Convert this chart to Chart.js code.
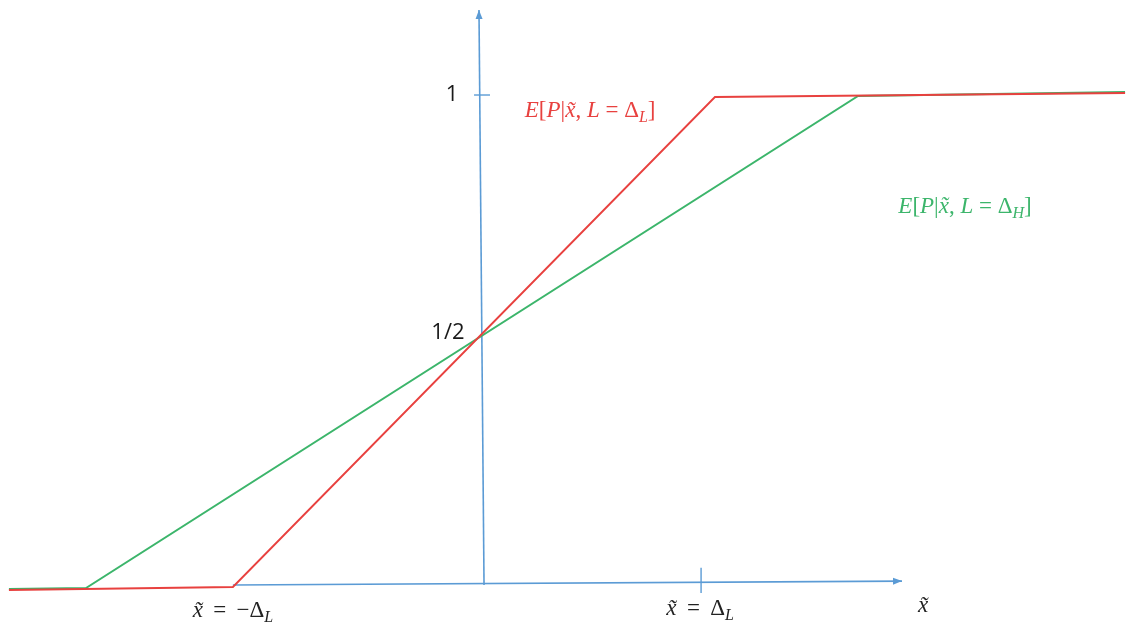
<!DOCTYPE html>
<html>
<head>
<meta charset="utf-8">
<script src="https://cdn.jsdelivr.net/npm/chart.js@4/dist/chart.umd.min.js"></script>
<style>
html,body{margin:0;padding:0;background:#fff;}
#wrap{width:1130px;height:630px;position:relative;}
</style>
</head>
<body>
<div id="wrap"><canvas id="c"></canvas></div>
<script>
// ---- data (x in units of roughly Delta_L, y in probability units) ----
const redX = [-2.013, -1.06, 0.991, 2.736];
const redY = [-0.006, 0.0, 0.998, 1.006];
const greenX = [-2.013, -1.685, 1.60, 2.736];
const greenY = [-0.004, -0.002, 1.000, 1.008];
// axes
const hAxisX = [-1.06, 1.787];
const hAxisY = [0.004, 0.012];
const vAxisX = [0.0085, -0.013];
const vAxisY = [0.004, 1.175];
// tick marks
const xTickX = [0.932, 0.932];
const xTickY = [0.039, -0.012];
const yTickX = [-0.034, 0.034];
const yTickY = [1.002, 1.002];
// scale ranges
const xRange = [-2.051, 2.757];
const yRange = [-0.0876, 1.1955];
// text labels
const labels = [
  {x: 0.46, y: 0.972, color: '#e8413f', segs: [['E','i'],['[','n'],['P','i'],['|','n'],['x\u0303','i'],[', ','n'],['L','i'],[' = Δ','n'],['L','s'],[']','n']]},
  {x: 2.055, y: 0.778, color: '#3cb56b', segs: [['E','i'],['[','n'],['P','i'],['|','n'],['x\u0303','i'],[', ','n'],['L','i'],[' = Δ','n'],['H','s'],[']','n']]},
  {x: -1.06, y: -0.0456, color: '#222', segs: [['x\u0303','i'],['\u2009 = \u2009−Δ','n'],['L','s']]},
  {x: 0.928, y: -0.0415, color: '#222', segs: [['x\u0303','i'],['\u2009 = \u2009Δ','n'],['L','s']]},
  {x: 1.877, y: -0.0354, color: '#222', segs: [['x\u0303','i']]}
];
const plainLabels = [
  {x: -0.128, y: 1.002, text: '1'},
  {x: -0.145, y: 0.517, text: '1/2'}
];

function pts(xs, ys){ return xs.map((x,i)=>({x:x, y:ys[i]})); }

const blue = '#5b9bd5';
const ds = (xs, ys, color, w, order) => ({data: pts(xs, ys), borderColor: color, borderWidth: w, showLine: true, pointRadius: 0, tension: 0, fill: false, order: order});

const arrowPlugin = {
  id: 'arrows',
  afterDatasetsDraw(chart){
    const ctx = chart.ctx, xs = chart.scales.x, ys = chart.scales.y;
    const arrow = (x0,y0,x1,y1) => {
      const px0 = xs.getPixelForValue(x0), py0 = ys.getPixelForValue(y0);
      const px1 = xs.getPixelForValue(x1), py1 = ys.getPixelForValue(y1);
      const a = Math.atan2(py1-py0, px1-px0);
      const L = 9, W = 3.5;
      ctx.save();
      ctx.fillStyle = blue;
      ctx.translate(px1, py1); ctx.rotate(a);
      ctx.beginPath(); ctx.moveTo(0,0); ctx.lineTo(-L, -W); ctx.lineTo(-L, W); ctx.closePath(); ctx.fill();
      ctx.restore();
    };
    arrow(hAxisX[0], hAxisY[0], hAxisX[1], hAxisY[1]);
    arrow(vAxisX[0], vAxisY[0], vAxisX[1], vAxisY[1]);

    // rich text labels
    const size = 23;
    const fontFor = s => s === 'i' ? `italic ${size}px "Liberation Serif"` : s === 's' ? `italic ${Math.round(size*0.7)}px "Liberation Serif"` : `${size}px "Liberation Serif"`;
    labels.forEach(l => {
      let w = 0;
      l.segs.forEach(([t,s]) => { ctx.font = fontFor(s); w += ctx.measureText(t).width; });
      let cx = xs.getPixelForValue(l.x) - w/2;
      const base = ys.getPixelForValue(l.y) + size*0.33;
      ctx.save(); ctx.fillStyle = l.color; ctx.textBaseline = 'alphabetic';
      l.segs.forEach(([t,s]) => {
        ctx.font = fontFor(s);
        ctx.fillText(t, cx, s === 's' ? base + 5 : base);
        cx += ctx.measureText(t).width;
      });
      ctx.restore();
    });
    plainLabels.forEach(l => {
      ctx.save(); ctx.fillStyle = '#1a1a1a'; ctx.font = '22px "Open Sans"';
      ctx.textAlign = 'center'; ctx.textBaseline = 'middle';
      ctx.fillText(l.text, xs.getPixelForValue(l.x), ys.getPixelForValue(l.y));
      ctx.restore();
    });
  }
};

new Chart(document.getElementById('c'), {
  type: 'scatter',
  data: {
    datasets: [
      ds(redX, redY, '#e8413f', 1.9, 1),
      ds(greenX, greenY, '#3cb56b', 1.9, 2),
      ds(hAxisX, hAxisY, blue, 1.6, 3),
      ds(vAxisX, vAxisY, blue, 1.6, 3),
      ds(xTickX, xTickY, blue, 1.4, 3),
      ds(yTickX, yTickY, blue, 1.4, 3)
    ]
  },
  options: {
    responsive: true,
    maintainAspectRatio: false,
    animation: false,
    layout: {padding: 0},
    plugins: {legend: {display: false}, tooltip: {enabled: false}},
    scales: {
      x: {type: 'linear', display: false, min: xRange[0], max: xRange[1]},
      y: {type: 'linear', display: false, min: yRange[0], max: yRange[1]}
    }
  },
  plugins: [arrowPlugin]
});
</script>
</body>
</html>
